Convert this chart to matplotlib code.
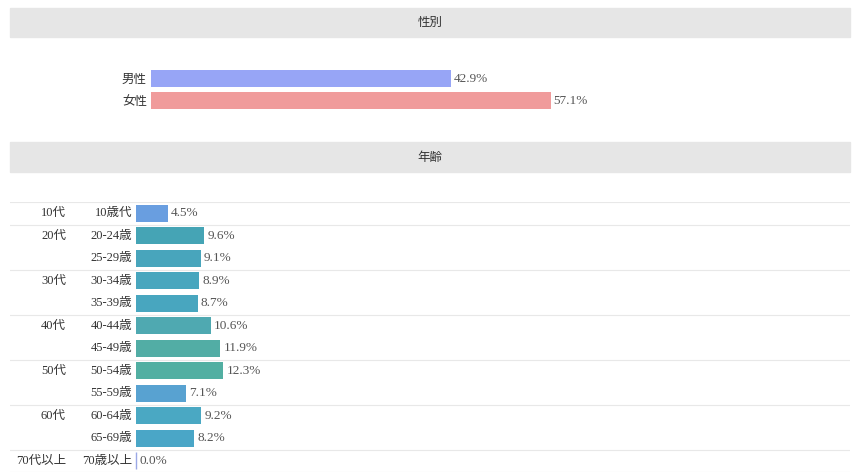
import matplotlib.pyplot as plt
from matplotlib.patches import Rectangle

plt.rcParams['font.family'] = ['Liberation Serif', 'Noto Sans CJK JP']

gender = ['男性', '女性']
gender_pct = [42.9, 57.1]
gender_colors = ['#97a5f6', '#f09b9b']

age_groups = ['10代', '20代', '30代', '40代', '50代', '60代', '70代以上']
group_sizes = [1, 2, 2, 2, 2, 2, 1]
age_labels = ['10歳代', '20-24歳', '25-29歳', '30-34歳', '35-39歳', '40-44歳',
              '45-49歳', '50-54歳', '55-59歳', '60-64歳', '65-69歳', '70歳以上']
age_pct = [4.5, 9.6, 9.1, 8.9, 8.7, 10.6, 11.9, 12.3, 7.1, 9.2, 8.2, 0.0]
age_colors = ['#699ee0', '#45a4b5', '#48a5bc', '#48a6be', '#48a6bf', '#4fa9b1',
              '#52ada5', '#52afa2', '#58a2d1', '#4aa8c3', '#4aa6c7', '#9aa8e6']

W, H = 856, 475
fig = plt.figure(figsize=(W / 100, H / 100), dpi=100)
txt = '#333333'
valc = '#555555'


def fx(px):
    return px / W


def fy(py):
    return 1 - py / H


def header(y0, y1, title):
    fig.patches.append(Rectangle((fx(10), fy(y1)), 840 / W, (y1 - y0) / H,
                                 transform=fig.transFigure, color='#e6e6e6', zorder=0))
    fig.text(fx(430), fy((y0 + y1) / 2 + 1), title, ha='center', va='center',
             fontsize=9, color=txt)


header(7.5, 36.5, '性別')
header(142, 172, '年齢')

# gender
ax1 = fig.add_axes([fx(151), fy(111.5), 700 / W, 44 / H])
ax1.barh(range(len(gender)), gender_pct, height=0.77, color=gender_colors)
ax1.set_xlim(0, 100)
ax1.set_ylim(len(gender) - 0.5, -0.5)
ax1.set_yticks(range(len(gender)))
ax1.set_yticklabels(gender, fontsize=9, color=txt)
ax1.tick_params(axis='y', length=0, pad=2.9)
ax1.set_xticks([])
for i, v in enumerate(gender_pct):
    ax1.text(v + 0.4, i, f'{v:.1f}%', va='center', ha='left', fontsize=9.5, color=valc)
for s in ax1.spines.values():
    s.set_visible(False)
ax1.patch.set_alpha(0)

# age
scale = 7.1
ax2 = fig.add_axes([fx(10), fy(472), 840 / W, 270 / H])
n = len(age_labels)
lw = [1.0 if v == 0 else 0 for v in age_pct]
ax2.barh(range(n), age_pct, height=0.76, color=age_colors,
         edgecolor=age_colors, linewidth=lw, zorder=3)
ax2.set_xlim(-126 / scale, 714 / scale)
ax2.set_ylim(n - 0.5, -0.5)
ax2.axis('off')

bounds = [-0.5]
row = 0
for g, size in zip(age_groups, group_sizes):
    ax2.text((66 - 136) / scale, row, g, ha='right', va='center', fontsize=9, color=txt)
    row += size
    bounds.append(row - 0.5)
for b in bounds:
    ax2.axhline(b, color='#e8e8e8', linewidth=0.8, zorder=1)

for i, (lab, v) in enumerate(zip(age_labels, age_pct)):
    ax2.text(-4 / scale, i, lab, ha='right', va='center', fontsize=9, color=txt)
    ax2.text(v + 3 / scale, i, f'{v:.1f}%', ha='left', va='center', fontsize=9.5, color=valc)

fig.savefig('out.png', dpi=100)
